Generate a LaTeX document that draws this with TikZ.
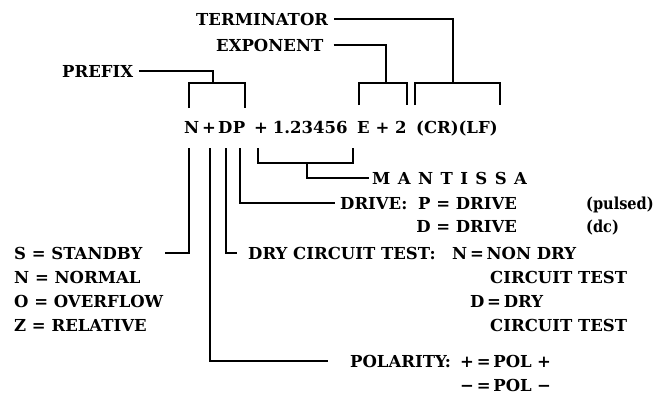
\documentclass[tikz,border=0pt]{standalone}
\usepackage{fontspec}
\usepackage{graphicx}
\setmainfont{DejaVu Serif}
\usetikzlibrary{calc}
\newcommand{\lsp}{\hspace{0.45em}}
\newcommand{\narrow}[1]{\scalebox{0.88}[1]{#1}}

\begin{document}
\begin{tikzpicture}[
    x=1pt, y=-1pt,
    every node/.style={font=\fontsize{16.5}{19}\selectfont\bfseries, inner sep=0pt},
    lbl/.style={anchor=base west},
    chr/.style={anchor=base},
    wire/.style={line width=1.3pt},
]
\useasboundingbox (0,0) rectangle (659,408);

% labels above the string
\node[lbl] (term) at (196,25) {TERMINATOR};
\node[lbl] (expo) at (216,51) {EXPONENT};
\node[lbl] (prefix) at (62,77) {PREFIX};

% the output string
\node[lbl] (sN) at (184,133) {N};
\node[chr] (sPlus) at (209,133) {+};
\node[lbl] (sD) at (218,133) {D};
\node[lbl] (sP) at (sD.base east) {P};
\node[lbl] (sMant) at (254,133) {+\hspace{0.3em}1.23456};
\node[lbl] (sExp) at (357,133) {E + 2};
\node[lbl] (sTerm) at (416,133) {(CR)(LF)};

% labels below the string
\node[lbl] (mantissa) at (372,184) {M\lsp A\lsp N\lsp T\lsp I\lsp S\lsp S\lsp A};
\node[lbl] (drive) at (340,209) {DRIVE:};
\node[lbl] (driveP) at (418,209) {P = DRIVE};
\node[lbl] (pulsed) at (586,209) {\narrow{(pulsed)}};
\node[anchor=base east] (driveD) at ($(driveP.base east)+(0,23)$) {D = DRIVE};
\node[lbl] (dc) at (586,232) {\narrow{(dc)}};
\node[lbl] (dry) at (248,259) {DRY CIRCUIT TEST:};
\node[lbl] (dryN) at (452,259) {N\,=\,NON DRY};
\node[lbl] (dryN2) at (490,283) {CIRCUIT TEST};
\node[lbl] (dryD) at (470,307) {D\,=\,DRY};
\node[lbl] (dryD2) at (490,331) {CIRCUIT TEST};
\node[lbl] (polarity) at (350,367) {POLARITY:};
\node[lbl] (polPos) at (460,367) {+\,=\,POL\,\,+};
\node[lbl] (polNeg) at (460,391) {−\,=\,POL\,\,−};
\node[lbl] (standby) at (14,259) {S = STANDBY};
\node[lbl] (normal) at (14,283) {N = NORMAL};
\node[lbl] (overflow) at (14,307) {O = OVERFLOW};
\node[lbl] (relative) at (14,331) {Z = RELATIVE};

% bracket points
\coordinate (pfxM) at (213,83);
\coordinate (pfxL) at (189,108);
\coordinate (pfxR) at (245,108);
\coordinate (expM) at (386,83);
\coordinate (expL) at (359,105);
\coordinate (expR) at (407,105);
\coordinate (termM) at (453,83);
\coordinate (termL) at (415,105);
\coordinate (termR) at (500,105);
\coordinate (nTop) at (189,148);
\coordinate (plusTop) at (210,148);
\coordinate (dTop) at (226,148);
\coordinate (pTop) at (240,148);
\coordinate (mantL) at (258,148);
\coordinate (mantR) at (353,148);
\coordinate (mantM) at (307,163);

% connectors above
\draw[wire] ([xshift=6pt]prefix.east) -| (pfxM);
\draw[wire] (pfxL) |- (pfxM) -| (pfxR);
\draw[wire] ([xshift=10pt]expo.east) -| (expM);
\draw[wire] (expL) |- (expM) -| (expR);
\draw[wire] ([xshift=6pt]term.east) -| (termM);
\draw[wire] (termL) |- (termM) -| (termR);

% connectors below
\draw[wire] (mantL) |- (mantM) -| (mantR);
\draw[wire] (mantM) |- ([xshift=-3pt]mantissa.west);
\draw[wire] (pTop) |- ([xshift=-5pt]drive.west);
\draw[wire] (dTop) |- ([xshift=-11pt]dry.west);
\draw[wire] (nTop) |- ([xshift=22pt]standby.east);
\draw[wire] (plusTop) |- ([xshift=-22pt]polarity.west);
\end{tikzpicture}
\end{document}
